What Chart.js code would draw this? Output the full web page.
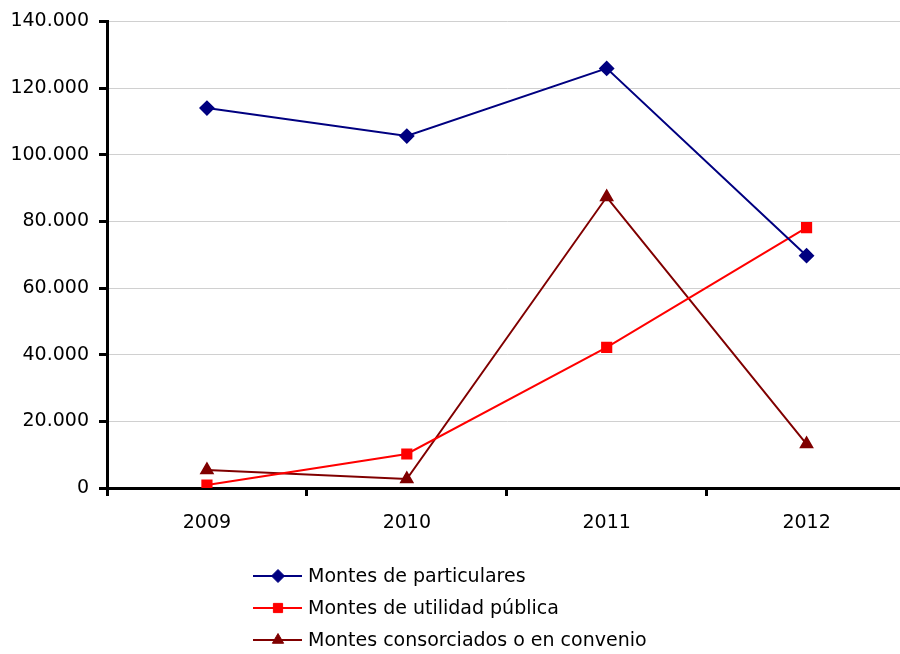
<!DOCTYPE html>
<html lang="es">
<head>
    <meta charset="UTF-8">
    <title>Montes</title>
    <style>
        html, body {
            margin: 0;
            padding: 0;
            background: #fff;
            overflow: hidden;
        }
        canvas {
            display: block;
        }
    </style>
</head>
<body>
    <canvas id="chart" width="915" height="654"></canvas>

    <script src="https://cdn.jsdelivr.net/npm/chart.js"></script>
    <script>
        // Datos
        const years = ['2009', '2010', '2011', '2012'];
        const particulares = [114000, 105600, 125900, 69700];
        const utilidadPublica = [900, 10200, 42200, 78100];
        const consorciados = [5400, 2700, 87300, 13200];
        const seriesNames = ['Montes de particulares', 'Montes de utilidad pública', 'Montes consorciados o en convenio'];
        const yTicks = [0, 20000, 40000, 60000, 80000, 100000, 120000, 140000];

        const FONT = 'DejaVu Sans';

        function fmt(v) {
            return String(v).replace(/\B(?=(\d{3})+(?!\d))/g, '.');
        }

        // Leyenda vertical debajo del gráfico
        const legendPlugin = {
            id: 'vlegend',
            afterDraw(chart) {
                const ctx = chart.ctx;
                ctx.save();
                chart.data.datasets.forEach((ds, i) => {
                    const y = 576 + i * 32;
                    ctx.strokeStyle = ds.borderColor;
                    ctx.fillStyle = ds.borderColor;
                    ctx.lineWidth = 2;
                    ctx.beginPath();
                    ctx.moveTo(253, y);
                    ctx.lineTo(302, y);
                    ctx.stroke();
                    ctx.lineWidth = 1;
                    Chart.helpers.drawPoint(ctx, {
                        pointStyle: ds.pointStyle,
                        radius: ds.pointRadius,
                        borderWidth: 1
                    }, 278, y);
                    ctx.fillStyle = '#000';
                    ctx.font = '19px ' + FONT;
                    ctx.textBaseline = 'middle';
                    ctx.fillText(ds.label, 308, y + 1);
                });
                ctx.restore();
            }
        };

        function makeDataset(label, data, color, style, radius) {
            return {
                label: label,
                data: data,
                borderColor: color,
                backgroundColor: color,
                pointBackgroundColor: color,
                pointBorderColor: color,
                borderWidth: 2,
                pointStyle: style,
                pointRadius: radius,
                pointHoverRadius: radius,
                tension: 0
            };
        }

        new Chart(document.getElementById('chart'), {
            type: 'line',
            data: {
                labels: years,
                datasets: [
                    makeDataset(seriesNames[0], particulares, '#000080', 'rectRot', 6.5),
                    makeDataset(seriesNames[1], utilidadPublica, '#ff0000', 'rect', 6.5),
                    makeDataset(seriesNames[2], consorciados, '#800000', 'triangle', 6.5)
                ]
            },
            options: {
                responsive: false,
                animation: false,
                layout: { padding: { top: 20, right: 2, left: 0, bottom: 0 } },
                plugins: {
                    legend: { display: false },
                    tooltip: { enabled: false }
                },
                scales: {
                    x: {
                        offset: true,
                        grid: {
                            offset: true,
                            drawOnChartArea: false,
                            drawTicks: true,
                            tickLength: 8,
                            tickColor: '#000',
                            tickWidth: 3
                        },
                        border: { color: '#000', width: 3 },
                        ticks: {
                            color: '#000',
                            padding: 16,
                            font: { family: FONT, size: 19 }
                        },
                        afterFit(scale) { scale.height = 166; }
                    },
                    y: {
                        min: 0,
                        max: 140000,
                        afterBuildTicks(scale) {
                            scale.ticks = yTicks.map(v => ({ value: v }));
                        },
                        grid: {
                            color: '#d0d0d0',
                            lineWidth: 1,
                            drawTicks: true,
                            tickLength: 8,
                            tickColor: '#000',
                            tickWidth: 3
                        },
                        border: { color: '#000', width: 3 },
                        ticks: {
                            color: '#000',
                            padding: 10,
                            font: { family: FONT, size: 19 },
                            callback: v => fmt(v)
                        },
                        afterFit(scale) { scale.width = 107; }
                    }
                }
            },
            plugins: [legendPlugin]
        });
    </script>
</body>
</html>
